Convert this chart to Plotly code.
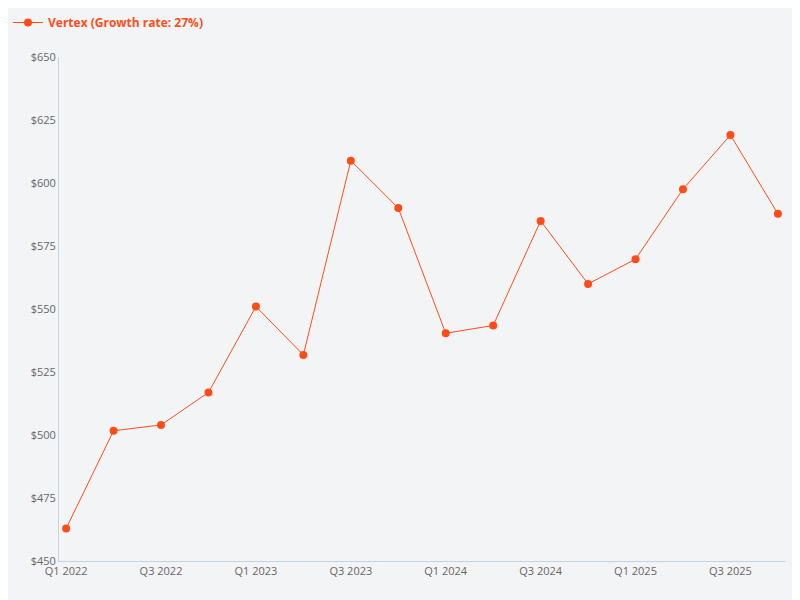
import plotly.graph_objects as go

quarters = ["Q1 2022", "Q2 2022", "Q3 2022", "Q4 2022",
            "Q1 2023", "Q2 2023", "Q3 2023", "Q4 2023",
            "Q1 2024", "Q2 2024", "Q3 2024", "Q4 2024",
            "Q1 2025", "Q2 2025", "Q3 2025", "Q4 2025"]
vertex_values = [462.9, 501.7, 504.0, 516.9, 551.0, 531.8, 608.9, 590.1,
                 540.4, 543.5, 585.0, 560.0, 569.8, 597.6, 619.1, 587.8]
tick_labels = quarters[::2]

color = "#ff4d1a"
bg = "#f3f4f6"

fig = go.Figure()
fig.add_trace(go.Scatter(
    x=list(range(len(quarters))),
    y=vertex_values,
    mode="lines+markers",
    name="<b>Vertex (Growth rate: 27%)</b>",
    line=dict(color=color, width=1),
    marker=dict(color=color, size=8),
))

fig.update_layout(
    width=800, height=600,
    paper_bgcolor=bg, plot_bgcolor=bg,
    font=dict(family="Open Sans", color="#666", size=11),
    margin=dict(l=51, r=23, t=42, b=47),
    showlegend=True,
    legend=dict(orientation="h", x=0, y=1, xanchor="left", yanchor="top",
                xref="container", yref="container",
                font=dict(color=color, size=12), itemwidth=30),
    xaxis=dict(
        range=[-0.15, 15.15],
        tickvals=list(range(0, len(quarters), 2)),
        ticktext=tick_labels,
        showgrid=False, zeroline=False,
        showline=True, linecolor="#c5d3e0",
        ticks="",
    ),
    yaxis=dict(
        range=[450, 650], dtick=25, tickprefix="$",
        showgrid=False, zeroline=False,
        showline=True, linecolor="#c5d3e0",
        ticks="",
    ),
)

fig.write_html("out.html")
